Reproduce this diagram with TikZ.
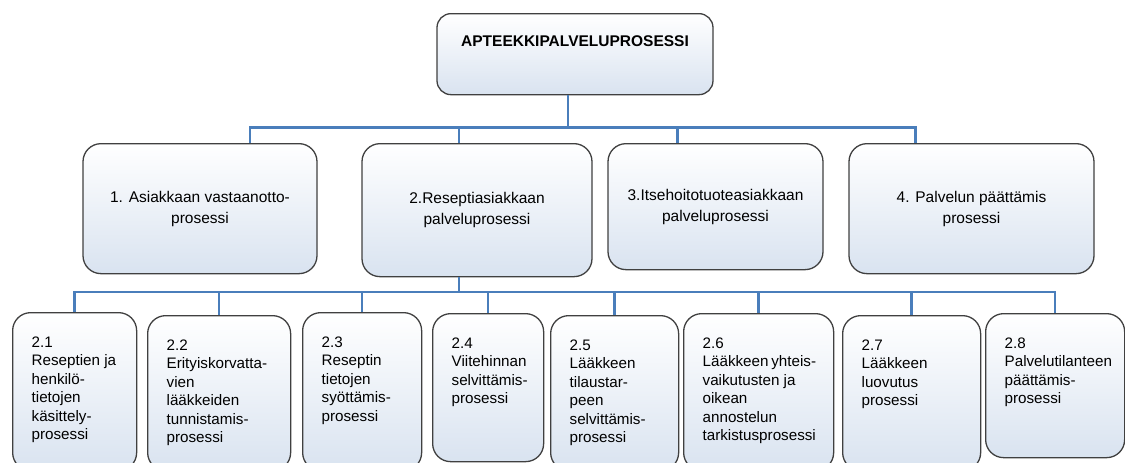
\documentclass[tikz,border=0pt]{standalone}
\usepackage{fontspec}
\setmainfont{Liberation Sans}
\usepackage{tikz}
\definecolor{linkblue}{HTML}{4A7EBB}
\definecolor{boxline}{HTML}{404040}
\definecolor{boxfill}{HTML}{D9E3F0}
\newcommand{\subtxt}[3]{\parbox[t][#2pt][t]{#1pt}{\raggedright\hyphenpenalty=10000 \exhyphenpenalty=10000 #3}}

\begin{document}
\begin{tikzpicture}[x=1pt,y=-1pt,
  box/.style={draw=boxline,line width=1.3pt,rounded corners=18pt,top color=white,bottom color=boxfill,inner sep=0pt},
  mainbox/.style={box,anchor=north,align=center,font=\fontsize{15.5}{21}\selectfont},
  subbox/.style={box,anchor=north west,inner xsep=19pt,inner ysep=24pt,font=\fontsize{15.2}{18.5}\selectfont},
  link/.style={draw=linkblue,line width=2.6pt}]
\useasboundingbox (0,0) rectangle (1125,463);
\clip (0,0) rectangle (1125,463);
\node[box,anchor=north,rounded corners=14pt,minimum width=276pt,text height=11pt,text depth=26pt,inner ysep=22pt,font=\bfseries\fontsize{15.5}{18}\selectfont] (top) at (575,13) {APTEEKKIPALVELUPROSESSI};
\node[mainbox,minimum width=234pt,minimum height=130pt] (b1) at (200,143) {1. Asiakkaan vastaanotto-\\prosessi};
\node[mainbox,minimum width=230pt,minimum height=133pt] (b2) at (477,143) {2.Reseptiasiakkaan\\palveluprosessi};
\node[mainbox,minimum width=215pt,minimum height=126pt] (b3) at (715.5,143) {3.Itsehoitotuoteasiakkaan\\palveluprosessi};
\node[mainbox,minimum width=245pt,minimum height=130pt] (b4) at (971.5,143) {4. Palvelun päättämis\\prosessi};
\node[subbox] (s1) at (12,312) {\subtxt{86}{110}{2.1\\Reseptien~ja\\henkilö-\\tietojen\\käsittely-\\prosessi}};
\node[subbox] (s2) at (147,315) {\subtxt{105}{107}{2.2\\Erityiskorvatta-\\vien\\lääkkeiden\\tunnistamis-\\prosessi}};
\node[subbox] (s3) at (302,312) {\subtxt{81}{110}{2.3\\Reseptin\\tietojen\\syöttämis-\\prosessi}};
\node[subbox] (s4) at (432,313) {\subtxt{73}{100}{2.4\\Viitehinnan\\selvittämis-\\prosessi}};
\node[subbox] (s5) at (550,315) {\subtxt{90}{107}{2.5\\Lääkkeen\\tilaustar-\\peen\\selvittämis-\\prosessi}};
\node[subbox] (s6) at (683,313) {\subtxt{112}{109}{2.6\\Lääkkeen~yhteis-\\vaikutusten~ja\\oikean\\annostelun\\tarkistusprosessi}};
\node[subbox] (s7) at (842,315) {\subtxt{100}{107}{2.7\\Lääkkeen\\luovutus\\prosessi}};
\node[subbox] (s8) at (985,313) {\subtxt{101}{96}{2.8\\Palvelutilanteen\\päättämis-\\prosessi}};
\draw[link] ([xshift=-7pt]top.south) -- ++(0,32) coordinate (bus1);
\draw[link] ([xshift=50pt]b1.north) |- (bus1) -| ([xshift=-56pt]b4.north);
\draw[link] ([xshift=-18pt]b2.north) -- ++(0,-16);
\draw[link] ([xshift=-38pt]b3.north) -- ++(0,-16);
\draw[link] ([xshift=-18pt]b2.south) -- ++(0,16) coordinate (bus2);
\draw[link] (s1.north) -- ++(0,-20) -| (s8.north);
\foreach \n in {2,...,7}
  \draw[link] (s\n.north) -- (s\n.north |- bus2);
\end{tikzpicture}
\end{document}
